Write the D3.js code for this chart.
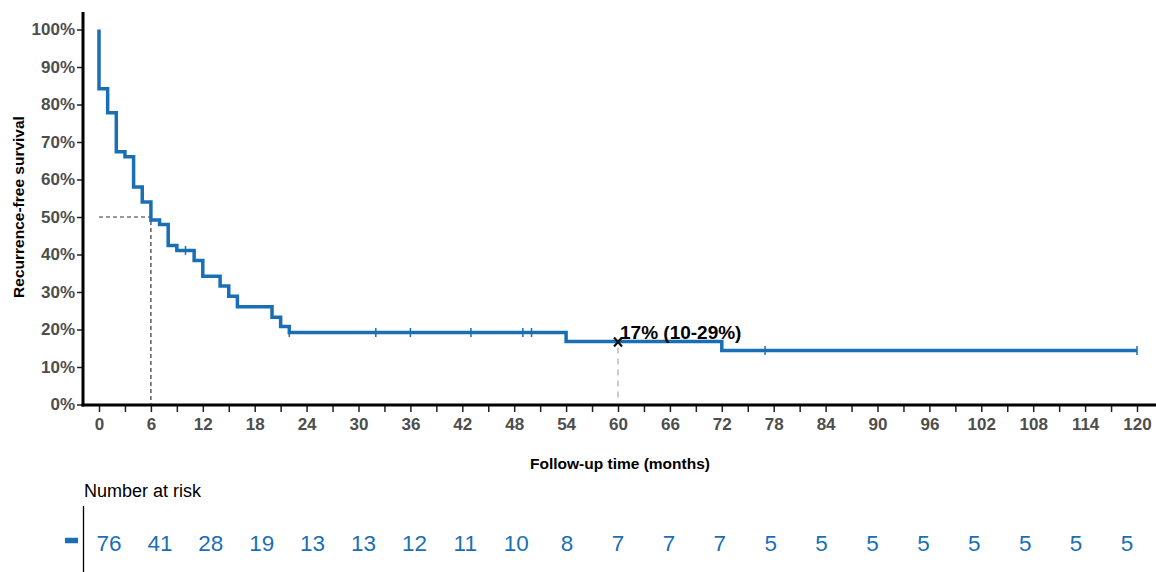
<!DOCTYPE html>
<html lang="en">
<head>
<meta charset="utf-8">
<title>Recurrence-free survival</title>
<script src="https://cdn.jsdelivr.net/npm/d3@7"></script>
<style>
    body {margin: 0; background: #fff;}
    svg {font-family: "Liberation Sans", Arial, sans-serif; display: block;}
    .tick text {fill: #4d4d4d; font-weight: bold; font-size: 17px;}
</style>
</head>
<body>
<script>
    // Kaplan-Meier steps (time in months, survival in %)
    const eventTimes = [0, 1, 2, 3, 4, 5, 6, 7, 8, 9, 11, 12, 14, 15, 16, 20, 21, 22, 54, 72];
    const survivalAfter = [84.2, 77.8, 67.4, 66.1, 58.0, 54.0, 49.2, 48.0, 42.4, 41.1, 38.4, 34.2, 31.6, 28.9, 26.1, 23.3, 20.8, 19.2, 16.8, 14.4];
    const censorTimes = [10, 22, 32, 36, 43, 49, 50, 77, 120];
    const followUpEnd = 120;

    const medianTime = 6;
    const landmark = {time: 60, label: "17% (10-29%)"};

    const riskTimes = d3.range(0, 121, 6);
    const atRisk = [76, 41, 28, 19, 13, 13, 12, 11, 10, 8, 7, 7, 7, 5, 5, 5, 5, 5, 5, 5, 5];

    const yTicks = d3.range(0, 101, 10);
    const xTicks = d3.range(0, 121, 3);

    const blue = "#1a6fb4";
    const dim = {width: 1156, height: 572};

    const x = d3.scaleLinear().domain([0, 120]).range([99, 1137]);
    const y = d3.scaleLinear().domain([0, 100]).range([404.5, 29.5]);
    const xRisk = d3.scaleLinear().domain([0, 120]).range([109, 1127]);

    // survival value at time t
    function survAt(t) {
        let s = 100;
        eventTimes.forEach((e, i) => { if (e <= t) s = survivalAfter[i]; });
        return s;
    }

    const svg = d3.select("body").append("svg")
        .attr("width", dim.width)
        .attr("height", dim.height);

    // axes
    const yAxis = svg.append("g")
        .attr("transform", "translate(83,0)")
        .call(d3.axisLeft(y).tickValues(yTicks).tickFormat(d => d + "%").tickSize(6).tickPadding(2));
    yAxis.select(".domain").remove();
    yAxis.selectAll(".tick line").attr("stroke", "#222").attr("stroke-width", 1.5);

    const xAxis = svg.append("g")
        .attr("transform", "translate(0,405)")
        .call(d3.axisBottom(x).tickValues(xTicks).tickFormat(d => d % 6 === 0 ? d : "").tickSize(7).tickPadding(6));
    xAxis.select(".domain").remove();
    xAxis.selectAll(".tick line").attr("stroke", "#222").attr("stroke-width", 1.5);

    svg.append("line")
        .attr("x1", 83).attr("x2", 83).attr("y1", 12).attr("y2", 406.5)
        .attr("stroke", "#000").attr("stroke-width", 3);
    svg.append("line")
        .attr("x1", 81.5).attr("x2", 1156).attr("y1", 405).attr("y2", 405)
        .attr("stroke", "#000").attr("stroke-width", 3);

    // axis titles
    svg.append("text")
        .attr("transform", `translate(24,${y(50) - 10}) rotate(-90)`)
        .attr("text-anchor", "middle")
        .style("font-weight", "bold").style("font-size", "15.5px")
        .text("Recurrence-free survival");

    svg.append("text")
        .attr("x", 620).attr("y", 469)
        .attr("text-anchor", "middle")
        .style("font-weight", "bold").style("font-size", "15.5px")
        .text("Follow-up time (months)");

    // median reference lines
    svg.append("path")
        .attr("d", `M${x(0)},${y(50)}H${x(medianTime)}V${y(0)}`)
        .attr("fill", "none").attr("stroke", "#333")
        .attr("stroke-width", 1.2).attr("stroke-dasharray", "4,3");

    // landmark at 60 months
    const lmY = y(survAt(landmark.time));
    svg.append("line")
        .attr("x1", x(landmark.time)).attr("x2", x(landmark.time))
        .attr("y1", lmY + 6).attr("y2", y(0) - 2)
        .attr("stroke", "#bbb").attr("stroke-width", 1.5).attr("stroke-dasharray", "6,5");

    // survival curve
    const points = [[0, 100]].concat(eventTimes.map((t, i) => [t, survivalAfter[i]]), [[followUpEnd, survAt(followUpEnd)]]);
    svg.append("path")
        .datum(points)
        .attr("fill", "none")
        .attr("stroke", blue)
        .attr("stroke-width", 3.5)
        .attr("d", d3.line().x(d => x(d[0])).y(d => y(d[1])).curve(d3.curveStepAfter));

    // censor marks
    svg.selectAll(".censor")
        .data(censorTimes)
        .join("line")
        .attr("class", "censor")
        .attr("x1", d => x(d)).attr("x2", d => x(d))
        .attr("y1", d => y(survAt(d)) - 4.5).attr("y2", d => y(survAt(d)) + 4.5)
        .attr("stroke", blue).attr("stroke-width", 1.5);

    // landmark marker and label
    const lmX = x(landmark.time);
    svg.append("path")
        .attr("d", `M${lmX - 4},${lmY - 4}L${lmX + 4},${lmY + 5}M${lmX + 4},${lmY - 4}L${lmX - 4},${lmY + 5}`)
        .attr("stroke", "#111").attr("stroke-width", 2.2);
    svg.append("text")
        .attr("x", lmX + 2).attr("y", lmY - 3)
        .style("font-weight", "bold").style("font-size", "19px")
        .text(landmark.label);

    // number at risk table
    svg.append("text")
        .attr("x", 84).attr("y", 497)
        .style("font-size", "18px")
        .text("Number at risk");

    svg.append("line")
        .attr("x1", 83.5).attr("x2", 83.5).attr("y1", 506).attr("y2", 572)
        .attr("stroke", "#000").attr("stroke-width", 1.3);

    svg.append("line")
        .attr("x1", 65).attr("x2", 78).attr("y1", 540.5).attr("y2", 540.5)
        .attr("stroke", blue).attr("stroke-width", 5.5);

    svg.selectAll(".risk")
        .data(atRisk)
        .join("text")
        .attr("class", "risk")
        .attr("x", (d, i) => xRisk(riskTimes[i]))
        .attr("y", 551)
        .attr("text-anchor", "middle")
        .attr("fill", blue)
        .style("font-size", "22.5px")
        .text(d => d);
</script>
</body>
</html>
